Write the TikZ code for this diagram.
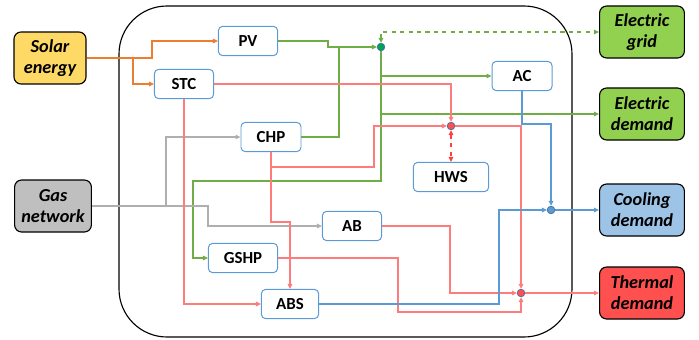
\documentclass[tikz,border=0pt]{standalone}
\usepackage{fontspec}
\setmainfont{Carlito}
\usetikzlibrary{arrows.meta}
\definecolor{cblue}{HTML}{5B9BD5}
\definecolor{cgreen}{HTML}{70AD47}
\definecolor{corange}{HTML}{ED7D31}
\definecolor{cred}{HTML}{FF7C7C}
\definecolor{cdred}{HTML}{FF3F3F}
\definecolor{cgray}{HTML}{AFAFAF}
\definecolor{fyellow}{HTML}{FFD966}
\definecolor{fgreen}{HTML}{92D050}
\definecolor{fblue}{HTML}{9DC3E6}
\definecolor{fred}{HTML}{FF5050}
\definecolor{fgray}{HTML}{BFBFBF}
\definecolor{fdot}{HTML}{00A15A}
\definecolor{cdot}{HTML}{41719C}

\begin{document}
\begin{tikzpicture}[x=0.25mm,y=-0.25mm,
    unit/.style={draw=cblue,line width=0.7pt,fill=white,rounded corners=3pt,
        minimum height=0.73cm,font=\fontsize{12}{14}\selectfont\bfseries},
    ext/.style={draw=black,line width=0.8pt,rounded corners=5pt,minimum width=2.12cm,
        minimum height=1.3cm,inner sep=1pt,align=center,font=\fontsize{13}{15}\selectfont\bfseries\itshape},
    jdot/.style={circle,draw=cdot,line width=0.5pt,inner sep=0pt,minimum size=0.19cm},
    flow/.style={line width=0.8pt,-{Triangle[length=3.5pt,width=3.2pt]}},
    plain/.style={line width=0.8pt}]

    % Frame
    \useasboundingbox (0,0) rectangle (699,339);
    \draw[line width=0.8pt,rounded corners=1.2cm] (119,6) rectangle (572,337);

    % Outside
    \node[ext,fill=fyellow,minimum width=1.8cm] (solar) at (50,58) {Solar\\energy};
    \node[ext,fill=fgray,minimum width=1.92cm] (gas) at (53,206) {Gas\\network};
    \node[ext,fill=fgreen] (grid) at (642,32) {Electric\\grid};
    \node[ext,fill=fgreen] (edem) at (642,114) {Electric\\demand};
    \node[ext,fill=fblue] (cdem) at (642,210) {Cooling\\demand};
    \node[ext,fill=fred] (tdem) at (642,293) {Thermal\\demand};

    % Units
    \node[unit,minimum width=1.48cm] (pv) at (248,41) {PV};
    \node[unit,minimum width=1.48cm] (stc) at (184,84) {STC};
    \node[unit,minimum width=1.5cm] (chp) at (271,137) {CHP};
    \node[unit,minimum width=1.5cm] (ac) at (522,76) {AC};
    \node[unit,minimum width=1.88cm] (hws) at (451,177) {HWS};
    \node[unit,minimum width=1.48cm] (ab) at (352,226) {AB};
    \node[unit,minimum width=1.73cm] (gshp) at (243,258) {GSHP};
    \node[unit,minimum width=1.43cm] (abs) at (290,304) {ABS};

    % Junctions
    \node[jdot,fill=fdot] (je) at (381,47) {};
    \node[jdot,fill=fred] (jh) at (451,126) {};
    \node[jdot,fill=cblue] (jc) at (551,210) {};
    \node[jdot,fill=fred] (jt) at (521,293) {};
    \coordinate (sbr) at (133,58);
    \coordinate (gbr) at (166,206);
    \coordinate (chpb) at (271,167);

    % Solar
    \draw[flow,corange] (solar.east) -- (152,58) |- (pv.west);
    \draw[flow,corange] (sbr) |- (stc.west);

    % Electricity
    \draw[flow,cgreen] (pv.east) -- (328,41) -- (328,47) -- (je);
    \draw[plain,cgreen] (chp.east) -| (339,47);
    \draw[flow,cgreen,dashed,{Triangle[length=3.5pt,width=3.2pt]}-{Triangle[length=3.5pt,width=3.2pt]}] (je) |- (grid.west);
    \draw[flow,cgreen] (je) -- (381,181) -- (193,181) |- (gshp.west);
    \draw[flow,cgreen] (381,76) -- (ac.west);
    \draw[flow,cgreen] (381,114) -- (edem.west);

    % Gas
    \draw[flow,cgray] (gas.east) -- (gbr) |- (chp.west);
    \draw[flow,cgray] (gbr) -- (208,206) |- (ab.west);

    % Heat
    \draw[flow,cred] (stc.east) -| (jh);
    \draw[flow,cred] (stc.south) |- (abs.west);
    \draw[flow,cred] (chp.south) -- (271,222) -| (abs.north);
    \draw[flow,cred] (chpb) -- (374,167) |- (jh);
    \draw[flow,cdred,dashed,{Triangle[length=3.5pt,width=3.2pt]}-{Triangle[length=3.5pt,width=3.2pt]}] (jh) -- (hws.north);
    \draw[flow,cred] (jh) -| (jt);
    \draw[flow,cred] (ab.east) -- (450,226) |- (jt);
    \draw[flow,cred] (gshp.east) -| (398,312) -| (jt);
    \draw[flow,cred] (jt) -- (tdem.west);

    % Cooling
    \draw[flow,cblue] (ac.south) -- (522,124) -| (jc);
    \draw[flow,cblue] (abs.east) -| (499,210) -- (jc);
    \draw[flow,cblue] (jc) -- (cdem.west);
\end{tikzpicture}
\end{document}
